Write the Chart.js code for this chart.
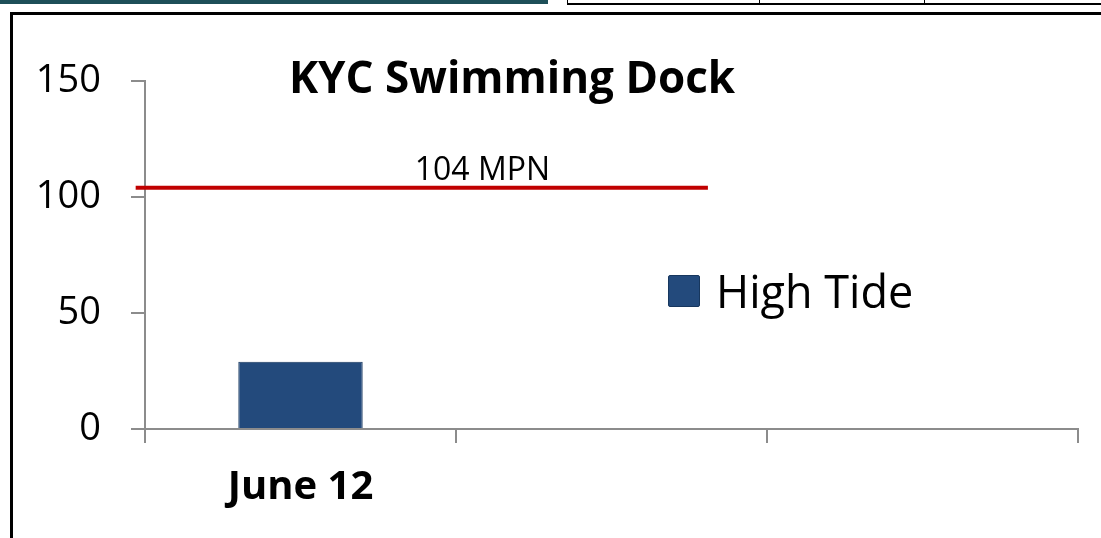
<!DOCTYPE html>
<html>
<head>
<meta charset="utf-8">
<script src="https://cdn.jsdelivr.net/npm/chart.js@4.4.1/dist/chart.umd.min.js"></script>
<style>
  html, body { margin: 0; padding: 0; background: #fff; }
  body { width: 1101px; height: 538px; position: relative; overflow: hidden; font-family: "Open Sans", sans-serif; }
  #strip { position: absolute; left: 0; top: 0; width: 548px; height: 4px; background: #1d4f58; }
  #table { position: absolute; left: 567px; top: -4px; width: 540px; height: 6px; border: 1px solid #000; border-bottom-width: 2px; }
  #table i { position: absolute; top: 0; height: 6px; border-left: 1px solid #000; }
  #frame { position: absolute; left: 10px; top: 12px; width: 1200px; height: 600px; border: 3px solid #000; }
  #chartBox { position: absolute; left: 0; top: 0; width: 1101px; height: 538px; }
  #title { position: absolute; left: 0; width: 1024px; top: 54px; line-height: 1; text-align: center; font-weight: bold; font-size: 44px; color: #000; }
  #legend { position: absolute; left: 668px; top: 268px; line-height: 1; font-size: 45px; color: #000; display: flex; align-items: center; }
  #legend span.box { display: inline-block; width: 30px; height: 30px; margin-right: 16px; border: 1px solid #17375e; border-radius: 2px; }
</style>
</head>
<body>
<div id="strip"></div>
<div id="table"><i style="left:191px"></i><i style="left:356px"></i></div>
<div id="frame"></div>
<div id="chartBox"><canvas id="chart" width="1101" height="538"></canvas></div>
<div id="title">KYC Swimming Dock</div>
<div id="legend"></div>

<script>
// chart data
const categories = ['June 12', '', ''];
const highTide = [29, null, null];
const yTicks = [0, 50, 100, 150];

// 104 MPN threshold line, drawn on a hidden linear x axis (-0.5 .. 2.5)
const thresholdValue = 104;
const thresholdLabel = '104 MPN';
const thresholdStartEnd = [-0.53, 1.31];
const thresholdLabelAt = 0.585;

const barColor = '#234a7c';
const lineColor = '#c00000';
const axisColor = '#8c8c8c';
const fontFamily = '"Open Sans", sans-serif';

// draws the "104 MPN" text above the line
const thresholdText = {
  id: 'thresholdText',
  afterDatasetsDraw(chart) {
    const ctx = chart.ctx;
    const x = chart.scales.xLine.getPixelForValue(thresholdLabelAt);
    const y = chart.scales.y.getPixelForValue(thresholdValue);
    ctx.save();
    ctx.font = '32px ' + fontFamily;
    ctx.fillStyle = '#000';
    ctx.textAlign = 'center';
    ctx.textBaseline = 'alphabetic';
    ctx.fillText(thresholdLabel, x, y - 8);
    ctx.restore();
  }
};

const chart = new Chart(document.getElementById('chart'), {
  type: 'bar',
  data: {
    labels: categories,
    datasets: [
      {
        type: 'bar',
        label: 'High Tide',
        data: highTide,
        backgroundColor: barColor,
        borderColor: '#17375e',
        borderWidth: 1,
        grouped: false,
        categoryPercentage: 1,
        barPercentage: 0.4,
        xAxisID: 'x'
      },
      {
        type: 'line',
        label: thresholdLabel,
        data: thresholdStartEnd.map(x => ({ x: x, y: thresholdValue })),
        borderColor: lineColor,
        borderWidth: 4,
        pointRadius: 0,
        fill: false,
        clip: false,
        xAxisID: 'xLine'
      }
    ]
  },
  options: {
    responsive: false,
    animation: false,
    layout: { padding: { left: 30, top: 81, right: 23, bottom: 0 } },
    plugins: {
      legend: { display: false },
      title: { display: false },
      tooltip: { enabled: false }
    },
    scales: {
      x: {
        type: 'category',
        offset: true,
        afterFit: s => { s.height = 109; },
        grid: { offset: true, drawOnChartArea: false, drawTicks: true, tickLength: 14, color: axisColor, lineWidth: 2 },
        border: { color: axisColor, width: 2 },
        ticks: { color: '#000', padding: 21, font: { family: fontFamily, size: 40, weight: 'bold' } }
      },
      xLine: {
        type: 'linear',
        display: false,
        offset: false,
        grid: { offset: false },
        min: -0.5,
        max: 2.5
      },
      y: {
        min: 0,
        max: 150,
        afterFit: s => { s.width = 115; },
        afterBuildTicks: s => { s.ticks = yTicks.map(v => ({ value: v })); },
        grid: { drawOnChartArea: false, drawTicks: true, tickLength: 14, color: axisColor, lineWidth: 2 },
        border: { color: axisColor, width: 2 },
        ticks: { color: '#000', padding: 30, font: { family: fontFamily, size: 38 } }
      }
    }
  },
  plugins: [thresholdText]
});

// html legend from the bar dataset
const legend = document.getElementById('legend');
const ds = chart.data.datasets[0];
legend.innerHTML = '<span class="box" style="background:' + ds.backgroundColor + '"></span>' + ds.label;
</script>
</body>
</html>
